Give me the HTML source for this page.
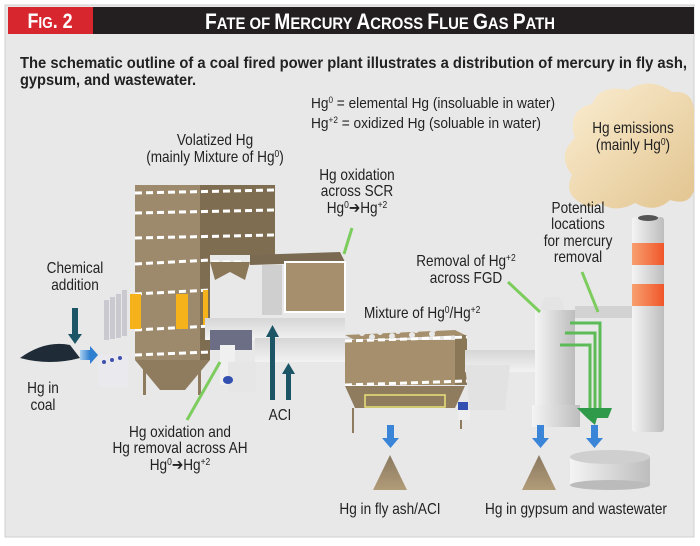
<!DOCTYPE html>
<html><head><meta charset="utf-8"><style>
html,body{margin:0;padding:0;background:#fff;}
svg{display:block}
text{font-family:"Liberation Sans",sans-serif;fill:#222;}
.c{text-anchor:middle}
.n{transform-box:fill-box;transform-origin:center;transform:scaleX(.85)}
.l{transform-box:fill-box;transform-origin:left;transform:scaleX(.85)}
</style></head><body>
<svg width="700" height="546" viewBox="0 0 700 546" xmlns="http://www.w3.org/2000/svg">
<defs>
<linearGradient id="cloud" x1="0" y1="0" x2="1" y2="1"><stop offset="0" stop-color="#fbeed2"/><stop offset="1" stop-color="#e2c48f"/></linearGradient>
<linearGradient id="gray" x1="0" x2="1"><stop offset="0" stop-color="#f4f4f4"/><stop offset="1" stop-color="#bdbdbd"/></linearGradient>
<linearGradient id="duct" x1="0" y1="0" x2="0" y2="1"><stop offset="0" stop-color="#d6d6d6"/><stop offset="1" stop-color="#f2f2f2"/></linearGradient>
<linearGradient id="blue" x1="0" x2="1"><stop offset="0" stop-color="#a9d0f0"/><stop offset="1" stop-color="#2f7fd0"/></linearGradient>
<linearGradient id="orange" x1="0" x2="1"><stop offset="0" stop-color="#f7a070"/><stop offset="1" stop-color="#f0562a"/></linearGradient>
<linearGradient id="pile" x1="0" y1="0" x2="0" y2="1"><stop offset="0" stop-color="#8a7860"/><stop offset="1" stop-color="#b19c78"/></linearGradient>
</defs>
<rect x="5" y="5" width="689" height="532" fill="#e8e8e8" stroke="#cfcfcf"/>
<path d="M585 205 Q562 195 572 175 Q556 155 575 138 Q566 110 592 104 Q600 84 628 90 Q650 76 672 92 Q694 90 694 112 L694 190 Q690 206 670 200 Q655 214 635 203 Q615 214 600 203 Q590 210 585 205Z" fill="url(#cloud)"/>
<rect x="8" y="7" width="686" height="27" fill="#231f20"/>
<rect x="8" y="7" width="85" height="27" fill="#d7262d"/>
<text x="50" y="28" class="c n" style="font-weight:bold;font-size:21px;fill:#fff">F<tspan font-size="16">IG</tspan>. 2</text>
<text x="380" y="29" class="c" textLength="350" lengthAdjust="spacingAndGlyphs" style="font-weight:bold;font-size:22px;fill:#fff">F<tspan font-size="17">ATE OF </tspan>M<tspan font-size="17">ERCURY </tspan>A<tspan font-size="17">CROSS </tspan>F<tspan font-size="17">LUE </tspan>G<tspan font-size="17">AS </tspan>P<tspan font-size="17">ATH</tspan></text>

<text x="20" y="68" textLength="667" lengthAdjust="spacingAndGlyphs" style="font-weight:bold;font-size:16px">The schematic outline of a coal fired power plant illustrates a distribution of mercury in fly ash,</text>
<text x="20" y="85" textLength="176" lengthAdjust="spacingAndGlyphs" style="font-weight:bold;font-size:16px">gypsum, and wastewater.</text>
<text x="311" y="108" textLength="244" lengthAdjust="spacingAndGlyphs" style="font-size:15px">Hg<tspan dy="-5" font-size="9">0</tspan><tspan dy="5"> = elemental Hg (insoluable in water)</tspan></text>
<text x="311" y="128" textLength="230" lengthAdjust="spacingAndGlyphs" style="font-size:15px">Hg<tspan dy="-5" font-size="9">+2</tspan><tspan dy="5"> = oxidized Hg (soluable in water)</tspan></text>

<polygon points="135,185 275,185 275,255 210,255 210,360 135,360" fill="#9d8a6c"/>
<polygon points="200,185 275,185 275,255 210,255 210,360 200,362" fill="#7f6d52"/>
<polygon points="135,360 210,360 185,390 160,390" fill="#8f7c5f"/>
<rect x="143" y="360" width="3" height="35" fill="#8f7c5f"/><rect x="198" y="360" width="3" height="35" fill="#8f7c5f"/>
<g stroke="#fff" stroke-width="3" stroke-dasharray="7,4">
<line x1="135" y1="193" x2="275" y2="190"/><line x1="135" y1="213" x2="275" y2="210"/>
<line x1="135" y1="238" x2="275" y2="235"/><line x1="135" y1="264" x2="210" y2="260"/>
<line x1="135" y1="294" x2="210" y2="290"/><line x1="135" y1="330" x2="210" y2="326"/>
<line x1="135" y1="355" x2="210" y2="352"/><line x1="212" y1="262" x2="245" y2="262"/>
</g>
<rect x="130" y="294" width="11" height="35" fill="#f5b21b"/>
<rect x="176" y="294" width="12" height="35" fill="#f5b21b"/>
<rect x="203" y="290" width="5" height="35" fill="#f5b21b"/>
<polygon points="210,262 250,262 245,280 230,272 215,280" fill="#8a7758"/>
<polygon points="250,255 340,252 345,262 250,265" fill="#7a6a52"/>
<rect x="262" y="265" width="20" height="50" fill="#cfcfcf"/>
<rect x="285" y="262" width="60" height="50" fill="#a58f6c" stroke="#fff" stroke-width="2"/>
<rect x="205" y="318" width="140" height="22" fill="url(#duct)"/>
<rect x="210" y="330" width="42" height="20" fill="#6c6e85"/>
<rect x="220" y="345" width="15" height="40" fill="#f0f0f0"/>
<rect x="228" y="362" width="28" height="30" fill="#e6e6e6"/>
<ellipse cx="228" cy="380" rx="5" ry="4" fill="#3450b0"/>
<rect x="255" y="338" width="100" height="24" fill="url(#duct)"/>
<g fill="#1c5566"><rect x="270" y="335" width="5" height="65"/><polygon points="266,337 279,337 272.5,325"/>
<rect x="286" y="372" width="5" height="28"/><polygon points="282,374 295,374 288.5,363"/></g>
<path d="M20 358 Q45 340 70 345 L80 358 Q50 366 20 358Z" fill="#1f2c38"/>
<rect x="72" y="308" width="6" height="28" fill="#1c5566"/><polygon points="68,334 82,334 75,344" fill="#1c5566"/>
<rect x="80" y="350" width="10" height="10" fill="url(#blue)"/><polygon points="90,346 98,355 90,364" fill="#2f7fd0"/>
<g fill="#c9c9cf"><rect x="104" y="300" width="5" height="40"/><rect x="110" y="297" width="5" height="42"/><rect x="116" y="294" width="5" height="44"/><rect x="122" y="290" width="5" height="46"/></g>
<rect x="98" y="355" width="30" height="32" fill="#eaeaee"/>
<g fill="#3f50b0"><circle cx="104" cy="362" r="2"/><circle cx="112" cy="360" r="2"/><circle cx="120" cy="358" r="2"/></g>
<polygon points="345,335 455,330 465,335 355,340" fill="#a58f6c"/>
<rect x="345" y="340" width="120" height="45" fill="#a58f6c"/>
<rect x="455" y="335" width="12" height="50" fill="#8a7758"/>
<g stroke="#fff" stroke-width="3" stroke-dasharray="7,4"><line x1="345" y1="341" x2="467" y2="337"/><line x1="345" y1="385" x2="467" y2="381"/></g>
<g fill="#e8e8e8"><circle cx="362" cy="333" r="3"/><circle cx="380" cy="332" r="3"/><circle cx="398" cy="331" r="3"/><circle cx="416" cy="330" r="3"/><circle cx="434" cy="329" r="3"/><circle cx="372" cy="337" r="3"/><circle cx="392" cy="336" r="3"/><circle cx="412" cy="335" r="3"/><circle cx="432" cy="334" r="3"/></g>
<polygon points="345,386 465,386 455,408 355,408" fill="#8f7c5f"/>
<rect x="365" y="395" width="80" height="12" fill="none" stroke="#e8e37a" stroke-width="1.5"/>
<g fill="#8f7c5f"><rect x="352" y="408" width="2" height="25"/><rect x="460" y="404" width="2" height="25"/></g>
<rect x="465" y="350" width="70" height="22" fill="url(#duct)"/>
<polygon points="465,365 510,365 505,410 470,410" fill="#e2e2e2"/>
<rect x="458" y="402" width="10" height="12" fill="#3450b0"/><rect x="458" y="410" width="12" height="10" fill="#eee"/>
<polygon points="545,297 560,297 565,310 540,310" fill="#e4e4e4"/>
<rect x="535" y="310" width="40" height="100" fill="url(#gray)"/>
<rect x="532" y="405" width="48" height="22" fill="url(#gray)"/>
<rect x="575" y="306" width="60" height="12" fill="#d2d2d2"/>
<g fill="none" stroke="#5cbb57" stroke-width="3"><path d="M570 323 H600 V410"/><path d="M565 333 H595 V410"/><path d="M560 345 H590 V410"/></g>
<path d="M577 408 H612 L608 418 H597 L595 425 L587 418 Z" fill="#2f9b4a"/>
<rect x="632" y="217" width="32" height="215" rx="3" fill="url(#gray)"/>
<ellipse cx="648" cy="218" rx="10" ry="3" fill="#555"/>
<rect x="632" y="243" width="32" height="22" fill="url(#orange)"/>
<rect x="632" y="284" width="32" height="22" fill="url(#orange)"/>
<g stroke="#7ccc5e" stroke-width="3"><line x1="220" y1="362" x2="187" y2="420"/><line x1="352" y1="228" x2="344" y2="254"/><line x1="508" y1="282" x2="540" y2="312"/><line x1="582" y1="272" x2="598" y2="312"/></g>
<g fill="#3a85d8"><rect x="387" y="425" width="7" height="14"/><polygon points="382,438 399,438 390.5,448"/>
<rect x="537" y="425" width="7" height="14"/><polygon points="532,438 549,438 540.5,448"/>
<rect x="591" y="425" width="7" height="14"/><polygon points="586,438 603,438 594.5,448"/></g>
<polygon points="390,455 373,490 407,490" fill="url(#pile)"/>
<polygon points="539,455 522,490 556,490" fill="url(#pile)"/>
<rect x="570" y="457" width="80" height="28" fill="url(#gray)"/>
<ellipse cx="610" cy="485" rx="40" ry="5" fill="#bbb"/>
<ellipse cx="610" cy="457" rx="40" ry="7" fill="#cfcfcf"/>

<g style="font-size:16px">
<text x="633" y="133" class="c n">Hg emissions</text>
<text x="633" y="150" class="c n">(mainly Hg<tspan dy="-5" font-size="10">0</tspan><tspan dy="5">)</tspan></text>
<text x="215" y="145" class="c n">Volatized Hg</text>
<text x="215" y="162" class="c n">(mainly Mixture of Hg<tspan dy="-5" font-size="10">0</tspan><tspan dy="5">)</tspan></text>
<text x="357" y="180" class="c n">Hg oxidation</text>
<text x="357" y="196" class="c n">across SCR</text>
<text x="357" y="213" class="c n">Hg<tspan dy="-5" font-size="10">0</tspan><tspan dy="5">➔Hg</tspan><tspan dy="-5" font-size="10">+2</tspan></text>
<text x="75" y="273" class="c n">Chemical</text>
<text x="75" y="290" class="c n">addition</text>
<text x="43" y="393" class="c n">Hg in</text>
<text x="43" y="410" class="c n">coal</text>
<text x="364" y="318" class="l">Mixture of Hg<tspan dy="-5" font-size="10">0</tspan><tspan dy="5">/Hg</tspan><tspan dy="-5" font-size="10">+2</tspan></text>
<text x="466" y="266" class="c n">Removal of Hg<tspan dy="-5" font-size="10">+2</tspan></text>
<text x="466" y="283" class="c n">across FGD</text>
<text x="578" y="213" class="c n">Potential</text>
<text x="578" y="229" class="c n">locations</text>
<text x="578" y="246" class="c n">for mercury</text>
<text x="578" y="262" class="c n">removal</text>
<text x="280" y="420" class="c n">ACI</text>
<text x="180" y="437" class="c n">Hg oxidation and</text>
<text x="180" y="453" class="c n">Hg removal across AH</text>
<text x="180" y="470" class="c n">Hg<tspan dy="-5" font-size="10">0</tspan><tspan dy="5">➔Hg</tspan><tspan dy="-5" font-size="10">+2</tspan></text>
<text x="390" y="514" class="c n">Hg in fly ash/ACI</text>
<text x="576" y="514" class="c n">Hg in gypsum and wastewater</text>
</g>
</svg>
</body></html>
